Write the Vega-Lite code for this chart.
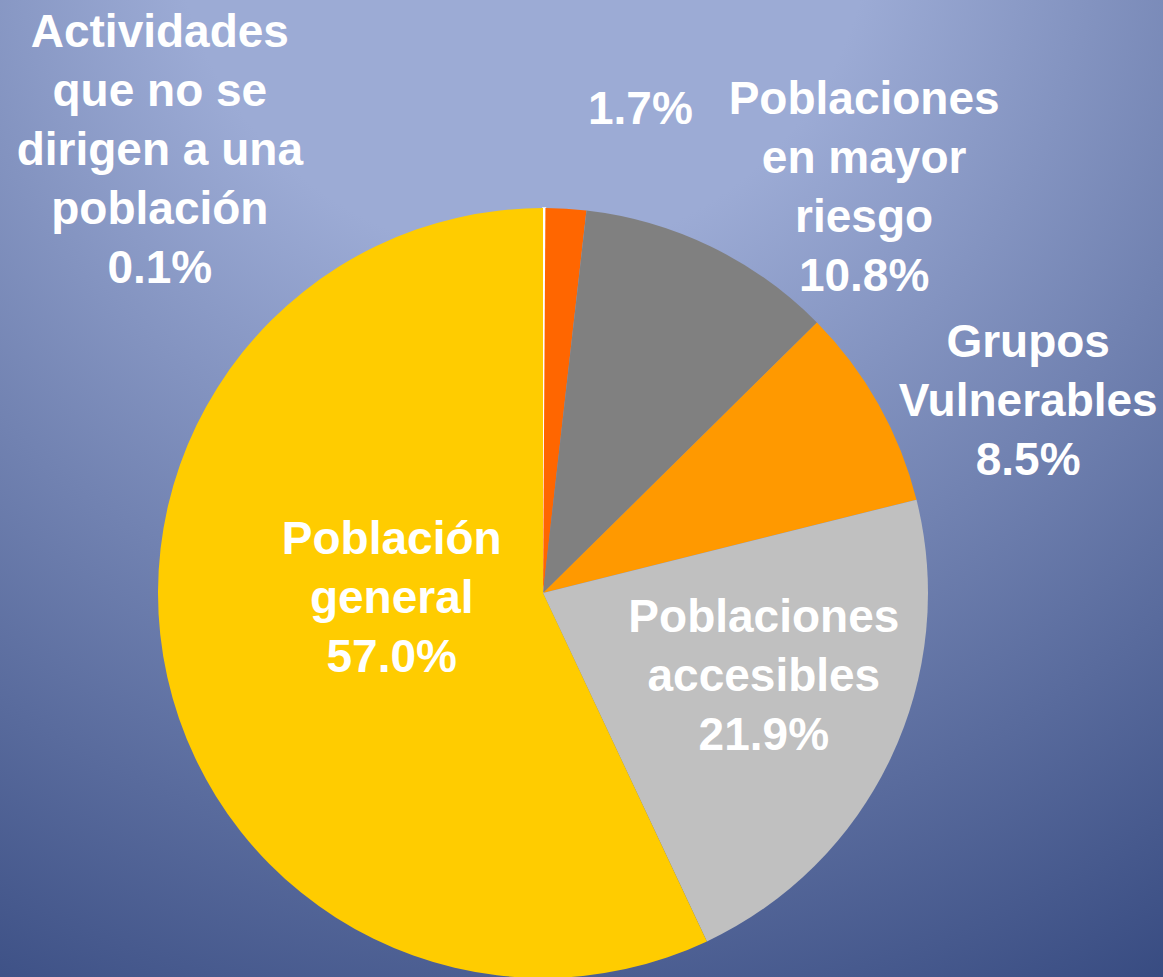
{
  "$schema": "https://vega.github.io/schema/vega-lite/v6.json",
  "width": 1163,
  "height": 977,
  "autosize": {"type": "none"},
  "padding": 0,
  "background": "#6B7EB0",
  "config": {
    "view": {"stroke": null},
    "text": {"font": "Liberation Sans", "fontWeight": "bold", "fontSize": 46, "lineHeight": 59, "fill": "#FFFFFF", "align": "center", "baseline": "middle"}
  },
  "datasets": {
    "slices": [
      {"cat": "Actividades que no se dirigen a una población", "value": 0.1, "order": 1, "label": ["Actividades", "que no se", "dirigen a una", "población", "0.1%"]},
      {"cat": "Otras", "value": 1.7, "order": 2, "label": ["1.7%"]},
      {"cat": "Poblaciones en mayor riesgo", "value": 10.8, "order": 3, "label": ["Poblaciones", "en mayor", "riesgo", "10.8%"]},
      {"cat": "Grupos Vulnerables", "value": 8.5, "order": 4, "label": ["Grupos", "Vulnerables", "8.5%"]},
      {"cat": "Poblaciones accesibles", "value": 21.9, "order": 5, "label": ["Poblaciones", "accesibles", "21.9%"]},
      {"cat": "Población general", "value": 57.0, "order": 6, "label": ["Población", "general", "57.0%"]}
    ],
    "backdrop": [{"panel": "background"}]
  },
  "layer": [
    {
      "data": {"name": "backdrop"},
      "mark": {
        "type": "rect",
        "color": {
          "gradient": "radial",
          "x1": 0.45, "y1": 0.0, "r1": 0.3,
          "x2": 0.45, "y2": 0.0, "r2": 1.15,
          "stops": [
            {"offset": 0, "color": "#9CABD5"},
            {"offset": 1, "color": "#2E4279"}
          ]
        }
      },
      "encoding": {}
    },
    {
      "data": {"name": "slices"},
      "layer": [
        {
          "mark": {"type": "arc", "outerRadius": 385, "x": {"expr": "width*0.4669"}, "y": {"expr": "height*0.607"}, "stroke": "#FFFFFF"},
          "encoding": {
            "theta": {"field": "value", "type": "quantitative", "stack": true},
            "order": {"field": "order", "type": "quantitative"},
            "color": {
              "field": "cat", "type": "nominal", "legend": null,
              "scale": {
                "domain": ["Actividades que no se dirigen a una población", "Otras", "Poblaciones en mayor riesgo", "Grupos Vulnerables", "Poblaciones accesibles", "Población general"],
                "range": ["#FFFFFF", "#FF6600", "#808080", "#FF9900", "#C0C0C0", "#FFCC00"]
              }
            },
            "strokeWidth": {"condition": {"test": "datum.order === 1", "value": 1.5}, "value": 0}
          }
        },
        {
          "mark": {"type": "text", "radius": 155, "dx": 0, "dy": -87, "x": {"expr": "width*0.4669"}, "y": {"expr": "height*0.607"}},
          "encoding": {
            "theta": {"field": "value", "type": "quantitative", "stack": true},
            "order": {"field": "order", "type": "quantitative"},
            "text": {"condition": {"test": "datum.order === 6", "field": "label"}, "value": ""}
          }
        },
        {
          "mark": {"type": "text", "radius": 240, "dx": 4, "dy": -78, "x": {"expr": "width*0.4669"}, "y": {"expr": "height*0.607"}},
          "encoding": {
            "theta": {"field": "value", "type": "quantitative", "stack": true},
            "order": {"field": "order", "type": "quantitative"},
            "text": {"condition": {"test": "datum.order === 5", "field": "label"}, "value": ""}
          }
        },
        {
          "mark": {"type": "text", "radius": 521, "dx": 31, "dy": 5, "x": {"expr": "width*0.4669"}, "y": {"expr": "height*0.607"}},
          "encoding": {
            "theta": {"field": "value", "type": "quantitative", "stack": true},
            "order": {"field": "order", "type": "quantitative"},
            "text": {"condition": {"test": "datum.order === 4", "field": "label"}, "value": ""}
          }
        },
        {
          "mark": {"type": "text", "radius": 515, "dx": 96, "dy": -30, "x": {"expr": "width*0.4669"}, "y": {"expr": "height*0.607"}},
          "encoding": {
            "theta": {"field": "value", "type": "quantitative", "stack": true},
            "order": {"field": "order", "type": "quantitative"},
            "text": {"condition": {"test": "datum.order === 3", "field": "label"}, "value": ""}
          }
        },
        {
          "mark": {"type": "text", "radius": 493, "dx": 68, "dy": 9, "x": {"expr": "width*0.4669"}, "y": {"expr": "height*0.607"}},
          "encoding": {
            "theta": {"field": "value", "type": "quantitative", "stack": true},
            "order": {"field": "order", "type": "quantitative"},
            "text": {"condition": {"test": "datum.order === 2", "field": "label"}, "value": ""}
          }
        },
        {
          "mark": {"type": "text", "radius": 583, "dx": -385, "dy": 23, "x": {"expr": "width*0.4669"}, "y": {"expr": "height*0.607"}},
          "encoding": {
            "theta": {"field": "value", "type": "quantitative", "stack": true},
            "order": {"field": "order", "type": "quantitative"},
            "text": {"condition": {"test": "datum.order === 1", "field": "label"}, "value": ""}
          }
        }
      ]
    }
  ]
}
